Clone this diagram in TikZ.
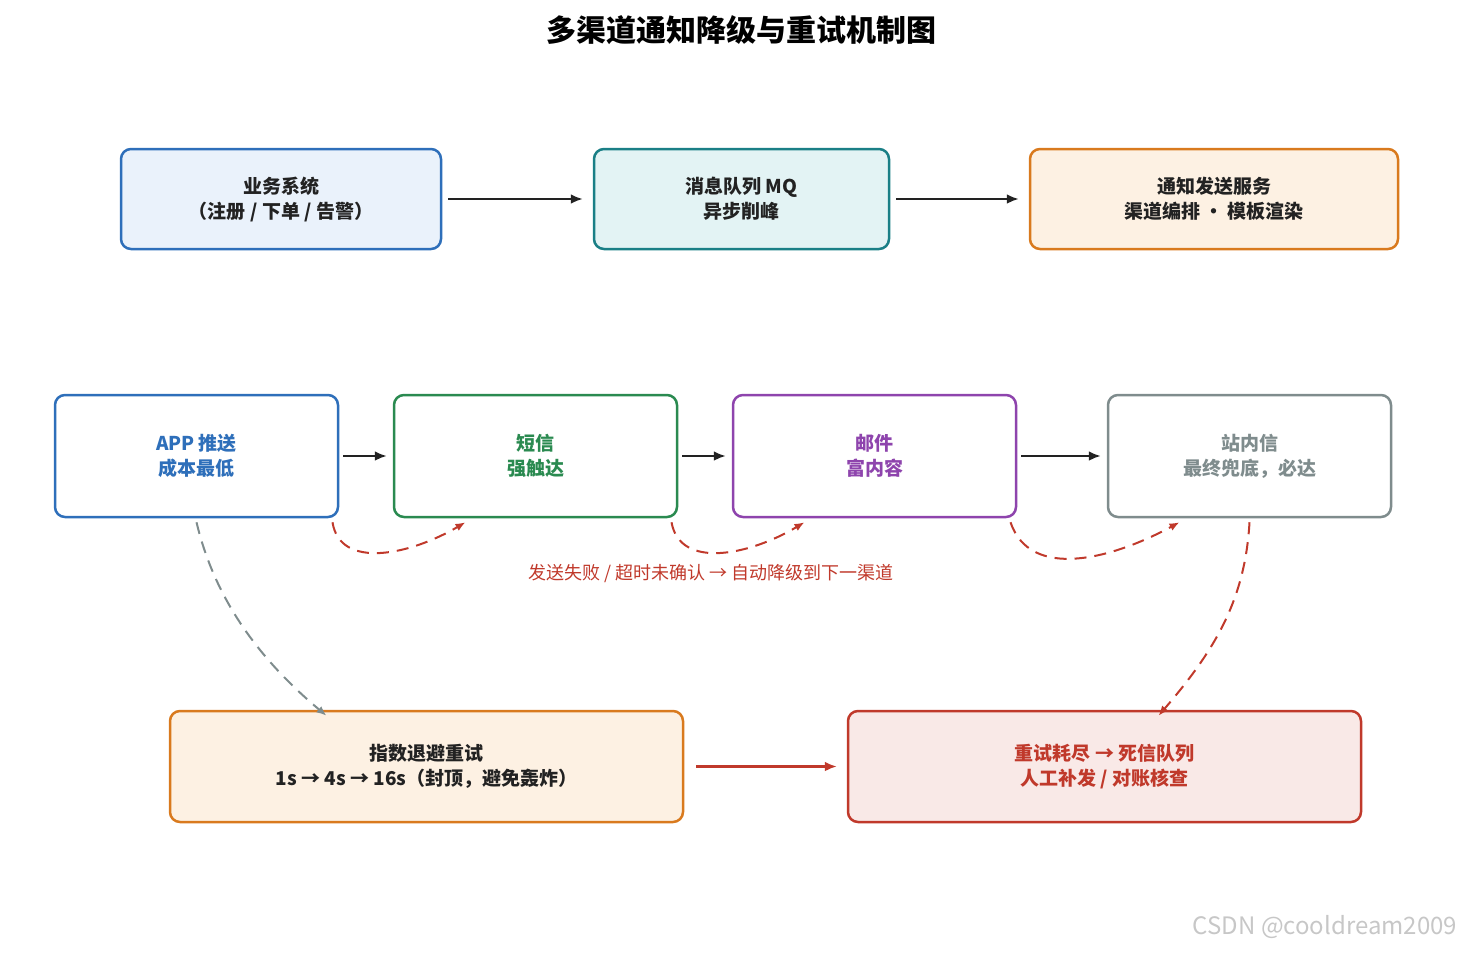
\documentclass[tikz,border=0pt]{standalone}
\usepackage{fontspec}
\setmainfont{Noto Sans CJK SC}
\usetikzlibrary{arrows.meta}
\definecolor{cblue}{HTML}{2E6FBA}\definecolor{fblue}{HTML}{EAF2FB}
\definecolor{cteal}{HTML}{1A7F86}\definecolor{fteal}{HTML}{E3F3F4}
\definecolor{corange}{HTML}{D97A1E}\definecolor{forange}{HTML}{FDF1E3}
\definecolor{cgreen}{HTML}{2A8A50}\definecolor{cpurple}{HTML}{8E44AD}
\definecolor{cgray}{HTML}{7F8C8D}\definecolor{cred}{HTML}{C0392B}
\definecolor{fred}{HTML}{F9E9E7}\definecolor{cdark}{HTML}{222222}
\tikzset{
  box/.style={draw, rounded corners=5pt, line width=1.25pt, align=center,
    font=\fontsize{9.5}{12.5}\selectfont\bfseries, inner sep=0pt, minimum height=50pt},
  flow/.style={-{Latex[length=6pt,width=5pt]}, line width=1.2pt, cdark},
  fall/.style={-{Latex[length=5pt,width=4pt]}, line width=1pt, cred, dashed, dash pattern=on 6pt off 4pt},
}
\begin{document}
\begin{tikzpicture}[x=0.5pt, y=-0.5pt]
  \useasboundingbox (0,0) rectangle (1483,953);
  \node[font=\fontsize{15}{18}\selectfont\bfseries, text=black] (title) at (741,30) {多渠道通知降级与重试机制图};

  \node[box, draw=cblue, fill=fblue, text=cdark, minimum width=160pt] (biz) at (281,199) {业务系统\\（注册 / 下单 / 告警）};
  \node[box, draw=cteal, fill=fteal, text=cdark, minimum width=147.5pt] (mq) at (741.5,199) {消息队列 MQ\\异步削峰};
  \node[box, draw=corange, fill=forange, text=cdark, minimum width=184pt] (svc) at (1214,199) {通知发送服务\\渠道编排 · 模板渲染};

  \node[box, draw=cblue, fill=white, text=cblue, minimum width=141.5pt, minimum height=61pt] (app) at (196.5,456) {APP 推送\\成本最低};
  \node[box, draw=cgreen, fill=white, text=cgreen, minimum width=141.5pt, minimum height=61pt] (sms) at (535.5,456) {短信\\强触达};
  \node[box, draw=cpurple, fill=white, text=cpurple, minimum width=141.5pt, minimum height=61pt] (mail) at (874.5,456) {邮件\\富内容};
  \node[box, draw=cgray, fill=white, text=cgray, minimum width=141.5pt, minimum height=61pt] (inbox) at (1249.5,456) {站内信\\最终兜底，必达};

  \node[box, draw=corange, fill=forange, text=cdark, minimum width=256.5pt, minimum height=55.5pt] (retry) at (426.5,766.5) {指数退避重试\\1s → 4s → 16s（封顶，避免轰炸）};
  \node[box, draw=cred, fill=fred, text=cred, minimum width=256.5pt, minimum height=55.5pt] (dead) at (1104.5,766.5) {重试耗尽 → 死信队列\\人工补发 / 对账核查};

  \draw[flow, shorten <=3pt, shorten >=5pt] (biz) -- (mq);
  \draw[flow, shorten <=3pt, shorten >=5pt] (mq) -- (svc);
  \draw[flow, shorten <=2pt, shorten >=3pt] (app) -- (sms);
  \draw[flow, shorten <=2pt, shorten >=3pt] (sms) -- (mail);
  \draw[flow, shorten <=2pt, shorten >=3pt] (mail) -- (inbox);
  \draw[-{Latex[length=6pt,width=5pt]}, line width=1.2pt, cred, shorten <=6pt, shorten >=5pt] (retry) -- (dead);

  % fallback curves
  \draw[fall] ([xshift=68pt,yshift=-2pt]app.south) .. controls (340,570) and (410,555) .. ([xshift=-35pt,yshift=-2pt]sms.south);
  \draw[fall] ([xshift=68pt,yshift=-2pt]sms.south) .. controls (680,570) and (750,555) .. ([xshift=-35pt,yshift=-2pt]mail.south);
  \draw[fall] ([xshift=68pt,yshift=-2pt]mail.south) .. controls (1030,580) and (1110,560) .. ([xshift=-35pt,yshift=-2pt]inbox.south);
  \node[font=\fontsize{9}{11}\selectfont, text=cred] (note) at (711,574) {发送失败 / 超时未确认 → 自动降级到下一渠道};

  \draw[fall, cgray] ([yshift=-2pt]app.south) .. controls (215,600) and (260,660) .. ([xshift=-50pt,yshift=-3pt]retry.north);
  \draw[fall] ([yshift=-2pt]inbox.south) .. controls (1245,600) and (1215,650) .. ([xshift=27pt,yshift=-3pt]dead.north);

  \node[font=\fontsize{12}{14}\selectfont, text=black!22] (mark) at (1325,927) {CSDN @cooldream2009};
\end{tikzpicture}
\end{document}
